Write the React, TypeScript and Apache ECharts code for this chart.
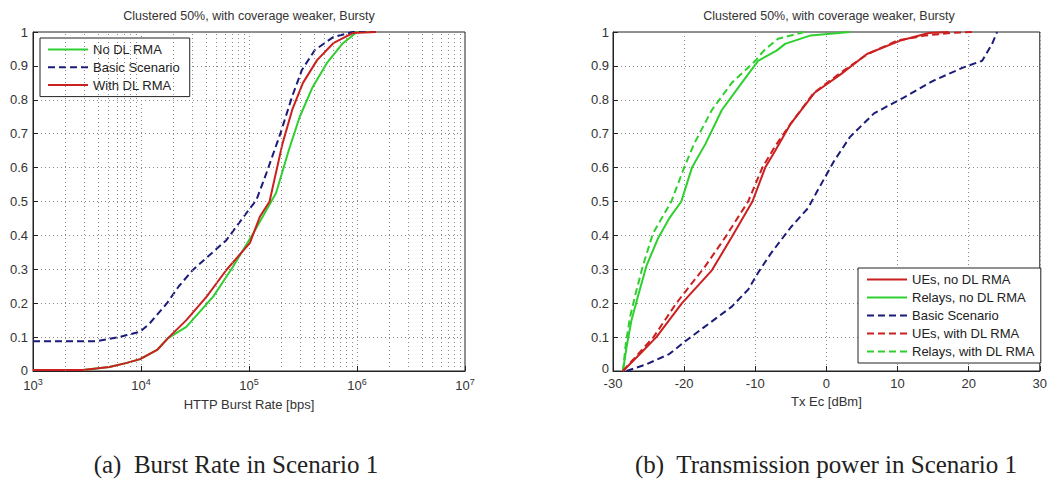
import React, { useEffect, useRef } from "react";
import * as echarts from "echarts";

// ---------- Left chart: HTTP Burst Rate CDF ----------
const titleText = "Clustered 50%, with coverage weaker, Bursty";

const noDlX = [1000, 2900, 5100, 7400, 9800, 14100, 17800, 26300, 46800, 70800, 110000, 145000, 178000, 234000, 295000, 389000, 525000, 741000, 1000000, 1500000];
const noDlY = [0.003, 0.003, 0.012, 0.024, 0.035, 0.062, 0.097, 0.13, 0.22, 0.307, 0.407, 0.475, 0.525, 0.652, 0.75, 0.838, 0.908, 0.967, 1.0, 1.0];

const basicLX = [1000, 3900, 6300, 7400, 9800, 12000, 17400, 22400, 30200, 61700, 102000, 117000, 145000, 195000, 251000, 309000, 407000, 603000, 912000, 1500000];
const basicLY = [0.088, 0.088, 0.1, 0.106, 0.116, 0.14, 0.2, 0.25, 0.298, 0.386, 0.48, 0.504, 0.584, 0.7, 0.81, 0.888, 0.947, 0.985, 1.0, 1.0];

const withDlX = [1000, 2900, 5100, 7400, 9800, 14100, 17800, 26300, 40700, 61700, 102000, 126000, 155000, 166000, 204000, 251000, 316000, 427000, 603000, 912000, 1500000];
const withDlY = [0.003, 0.003, 0.012, 0.024, 0.035, 0.062, 0.097, 0.15, 0.22, 0.298, 0.378, 0.455, 0.5, 0.543, 0.67, 0.77, 0.85, 0.917, 0.967, 0.997, 1.0];

// ---------- Right chart: Tx Ec CDF ----------
const ueNoX = [-28.6, -26.7, -23.9, -20.3, -16.1, -13.3, -10.4, -8.6, -7.2, -5, -1.7, 2, 5.7, 10.3, 14.4, 17.2];
const ueNoY = [0, 0.04, 0.1, 0.2, 0.297, 0.395, 0.5, 0.6, 0.65, 0.73, 0.82, 0.875, 0.935, 0.974, 0.997, 1.0];

const relNoX = [-28.6, -28.1, -27.4, -26.5, -25.3, -23.7, -22.1, -20.4, -18.9, -17.0, -14.7, -11.9, -9.6, -7.0, -5.8, -2.2, 3.3];
const relNoY = [0, 0.07, 0.15, 0.22, 0.31, 0.39, 0.45, 0.5, 0.6, 0.67, 0.77, 0.85, 0.915, 0.945, 0.965, 0.99, 1.0];

const basicRX = [-28.1, -25.3, -22.1, -19.7, -16.5, -13.3, -11, -9.6, -7.8, -5, -2.6, -1.3, 1.1, 3.3, 6.7, 10.8, 15, 19.2, 21.9, 23.3, 24];
const basicRY = [0, 0.02, 0.05, 0.09, 0.14, 0.19, 0.24, 0.29, 0.347, 0.424, 0.48, 0.53, 0.62, 0.69, 0.76, 0.806, 0.856, 0.895, 0.915, 0.965, 1.0];

const ueWithX = [-28.6, -26.9, -24.3, -21.1, -17, -14.2, -11, -9, -7.3, -5, -1.8, 2, 5.8, 10, 14, 18, 21];
const ueWithY = [0, 0.04, 0.1, 0.2, 0.31, 0.395, 0.5, 0.6, 0.66, 0.73, 0.82, 0.88, 0.935, 0.975, 0.99, 0.998, 1.0];

const relWithX = [-28.6, -28.2, -27.6, -26.8, -25.8, -24.4, -21.8, -20, -18.6, -16.1, -13.3, -10, -8.8, -6.8, -3.1];
const relWithY = [0, 0.08, 0.16, 0.23, 0.31, 0.405, 0.5, 0.6, 0.67, 0.77, 0.85, 0.915, 0.945, 0.98, 1.0];

const captionA = "(a)  Burst Rate in Scenario 1";
const captionB = "(b)  Transmission power in Scenario 1";

const GREEN = "#2fcf2f";
const RED = "#cc2020";
const BLUE = "#1b1b7a";
const FONT = "Liberation Sans";

const zip = (xs: number[], ys: number[]) => xs.map((x, i) => [x, ys[i]]);

export default function App() {
  const ref = useRef<HTMLDivElement>(null);
  useEffect(() => {
    if (!ref.current) return;
    const chart = echarts.init(ref.current, null, { renderer: "svg" });

    const minorVals: number[] = [];
    for (let d = 3; d < 7; d++) for (let k = 2; k <= 9; k++) minorVals.push(k * Math.pow(10, d));

    const gridLine = { show: true, lineStyle: { color: "#8a8a8a", type: [1, 3] as any, width: 1 } };
    const labelStyle = { color: "#333", fontFamily: FONT, fontSize: 13 };

    const lineSeries = (name: string, xi: number, data: number[][], color: string, dashed: boolean) => ({
      name,
      type: "line",
      xAxisIndex: xi,
      yAxisIndex: xi,
      data,
      showSymbol: false,
      symbol: "none",
      lineStyle: { color, width: 2, type: dashed ? ([7, 4] as any) : "solid" },
      itemStyle: { color },
      z: 3,
    });

    const legendBase = {
      orient: "vertical",
      selectedMode: false,
      backgroundColor: "#fff",
      borderColor: "#222",
      borderWidth: 1,
      borderRadius: 0,
      itemWidth: 40,
      itemHeight: 14,
      itemStyle: { opacity: 0 },
      textStyle: { color: "#222", fontFamily: FONT, fontSize: 13 },
    };

    const option: any = {
      animation: false,
      backgroundColor: "#fff",
      grid: [
        { left: 33, top: 32, width: 432, height: 339, show: true, borderColor: "#222", borderWidth: 1 },
        { left: 613, top: 32, width: 432, height: 339, show: true, borderColor: "#222", borderWidth: 1 },
      ],
      xAxis: [
        {
          type: "log",
          logBase: 10,
          gridIndex: 0,
          min: 1000,
          max: 10000000,
          name: "HTTP Burst Rate [bps]",
          nameLocation: "middle",
          nameGap: 27,
          nameTextStyle: { color: "#333", fontFamily: FONT, fontSize: 13 },
          axisLine: { onZero: false, lineStyle: { color: "#222" } },
          axisTick: { inside: true, length: 5, lineStyle: { color: "#222" } },
          splitLine: gridLine,
          axisLabel: {
            ...labelStyle,
            margin: 6,
            formatter: (v: number) => `{b|10}{s|${Math.round(Math.log10(v))}}`,
            rich: {
              b: { fontFamily: FONT, fontSize: 13, color: "#333" },
              s: { fontFamily: FONT, fontSize: 9, color: "#333", verticalAlign: "top", padding: [0, 0, 7, 0] },
            },
          },
        },
        {
          type: "value",
          gridIndex: 1,
          min: -30,
          max: 30,
          interval: 10,
          name: "Tx Ec [dBm]",
          nameLocation: "middle",
          nameGap: 23,
          nameTextStyle: { color: "#333", fontFamily: FONT, fontSize: 13 },
          axisLine: { onZero: false, lineStyle: { color: "#222" } },
          axisTick: { inside: true, length: 5, lineStyle: { color: "#222" } },
          splitLine: gridLine,
          axisLabel: { ...labelStyle, margin: 6 },
        },
      ],
      yAxis: [0, 1].map((gi) => ({
        type: "value",
        gridIndex: gi,
        min: 0,
        max: 1,
        interval: 0.1,
        axisLine: { show: true, onZero: false, lineStyle: { color: "#222" } },
        axisTick: { show: true, inside: true, length: 5, lineStyle: { color: "#222" } },
        splitLine: gridLine,
        axisLabel: {
          ...labelStyle,
          margin: gi === 0 ? 5 : 4,
          formatter: (v: number) => (v === 0 ? "{z|0}" : String(Math.round(v * 10) / 10)),
          rich: { z: { fontFamily: FONT, fontSize: 13, color: "#333", padding: [0, 0, gi === 1 ? 6 : 2, 0] } },
        },
      })),
      legend: [
        {
          ...legendBase,
          data: ["No DL RMA", "Basic Scenario", "With DL RMA"],
          left: 40,
          top: 38,
          padding: [5, 10, 5, 7],
          itemGap: 4.8,
        },
        {
          ...legendBase,
          data: ["UEs, no DL RMA", "Relays, no DL RMA", "Basic Scenario", "UEs, with DL RMA", "Relays, with DL RMA"],
          left: 858,
          top: 268,
          padding: [5, 6, 5, 8],
          itemGap: 5,
        },
      ],
      series: [
        {
          name: "__minor",
          type: "line",
          xAxisIndex: 0,
          yAxisIndex: 0,
          data: [],
          silent: true,
          markLine: {
            silent: true,
            symbol: ["none", "none"],
            label: { show: false },
            lineStyle: { color: "#8a8a8a", type: [1, 3], width: 1 },
            data: minorVals.map((v) => ({ xAxis: v })),
          },
          z: 1,
        },
        lineSeries("No DL RMA", 0, zip(noDlX, noDlY), GREEN, false),
        lineSeries("Basic Scenario", 0, zip(basicLX, basicLY), BLUE, true),
        lineSeries("With DL RMA", 0, zip(withDlX, withDlY), RED, false),
        lineSeries("Relays, no DL RMA", 1, zip(relNoX, relNoY), GREEN, false),
        lineSeries("Relays, with DL RMA", 1, zip(relWithX, relWithY), GREEN, true),
        lineSeries("UEs, no DL RMA", 1, zip(ueNoX, ueNoY), RED, false),
        lineSeries("UEs, with DL RMA", 1, zip(ueWithX, ueWithY), RED, true),
        lineSeries("Basic Scenario", 1, zip(basicRX, basicRY), BLUE, true),
      ],
      graphic: [
        {
          type: "text",
          x: 249,
          y: 16,
          style: { text: titleText, fill: "#333", font: `12.5px '${FONT}'`, textAlign: "center", textVerticalAlign: "middle" },
        },
        {
          type: "text",
          x: 829,
          y: 16,
          style: { text: titleText, fill: "#333", font: `12.5px '${FONT}'`, textAlign: "center", textVerticalAlign: "middle" },
        },
        {
          type: "text",
          x: 236,
          y: 464,
          style: { text: captionA, fill: "#222", font: "25px 'Liberation Serif'", textAlign: "center", textVerticalAlign: "middle" },
        },
        {
          type: "text",
          x: 826,
          y: 464,
          style: { text: captionB, fill: "#222", font: "25px 'Liberation Serif'", textAlign: "center", textVerticalAlign: "middle" },
        },
      ],
    };
    chart.setOption(option);
    return () => chart.dispose();
  }, []);
  return <div ref={ref} style={{ position: "absolute", left: 0, top: 0, width: 1050, height: 480 }} />;
}
